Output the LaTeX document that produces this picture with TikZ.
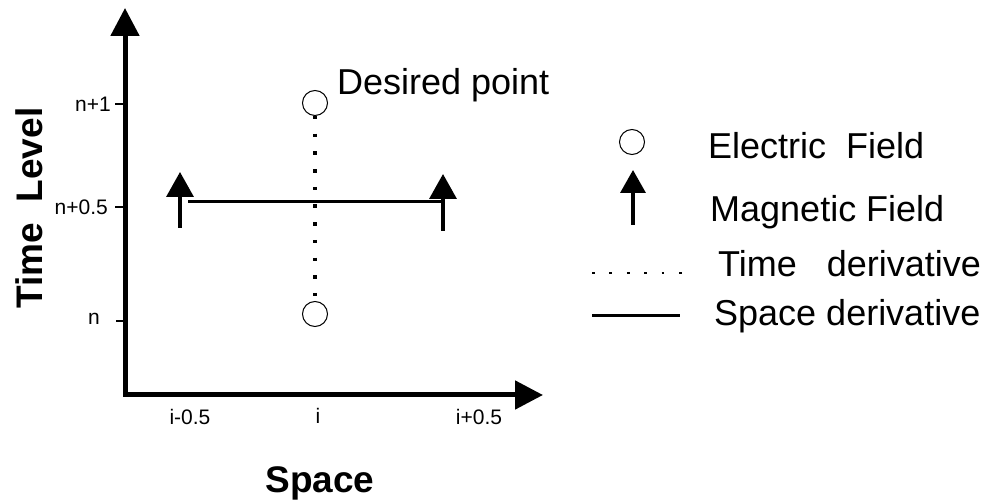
\documentclass[tikz,border=0pt]{standalone}
\usepackage{fontspec}
\setmainfont{Liberation Sans}
\usetikzlibrary{arrows.meta}
\begin{document}
\begin{tikzpicture}[x=1pt,y=-1pt,
  axis/.style={line width=5pt, line join=miter,
    {Triangle[length=28pt,width=28pt]}-{Triangle[length=28pt,width=28pt]}},
  tickmark/.style={line width=1.3pt},
  ticklabel/.style={font=\fontsize{21}{23}\selectfont, inner sep=0},
  axislabel/.style={font=\fontsize{37}{40}\selectfont\bfseries, inner sep=0},
  legendtext/.style={font=\fontsize{36}{40}\selectfont, inner sep=0, anchor=base west},
  efield/.style={circle, draw, line width=1pt, minimum size=25pt, inner sep=0pt},
  hfield/.style={line width=3.5pt, -{Triangle[length=25pt,width=27pt]}},
  timederiv/.style={line width=4pt, dash pattern=on 3.5pt off 14.2pt},
  spacederiv/.style={line width=3pt}
]
\useasboundingbox (0,0) rectangle (989,502);

% axes
\coordinate (O) at (125,395);
\coordinate (ytop) at (125,8);
\coordinate (xend) at (543,395);
\draw[axis] (ytop) -- (O) -- (xend);

% time level ticks
\coordinate (t1) at (125,104);
\coordinate (th) at (125,207);
\coordinate (t0) at (125,321);
\draw[tickmark] (t1) -- ++(-10,0);
\draw[tickmark] (th) -- ++(-10,0);
\draw[tickmark] (t0) -- ++(-9,0);
\node[ticklabel, anchor=base east] (ln1) at (111,112) {n+1};
\node[ticklabel, anchor=base east] (lnh) at (108,215) {n+0.5};
\node[ticklabel, anchor=base east] (ln0) at (100,325) {n};

% space labels
\node[ticklabel, anchor=base] (li0) at (190,425) {i-0.5};
\node[ticklabel, anchor=base] (li) at (318,424) {i};
\node[ticklabel, anchor=base] (li1) at (479,425) {i+0.5};

% axis titles
\node[axislabel, anchor=base] (xtitle) at (320,493) {Space};
\node[axislabel, anchor=base, rotate=90] (ytitle) at (42,208) {Time\ \ Level};

% electric field points and the time derivative
\node[efield] (Etop) at (315,103) {};
\node[efield] (Ebot) at (315,314) {};
\draw[timederiv] (Etop.south) -- (Ebot.north);
\node[legendtext] (desired) at (337,95) {Desired point};

% magnetic field points and the space derivative
\coordinate (HLa) at (180,228);
\coordinate (HLb) at (180,172);
\coordinate (HRa) at (443,231);
\coordinate (HRb) at (443,174);
\draw[hfield] (HLa) -- (HLb);
\draw[hfield] (HRa) -- (HRb);
\coordinate (sL) at (188,202);
\coordinate (sR) at (443,202);
\draw[spacederiv] (sL) -- (sR);

% legend
\node[efield] (legE) at (632,142) {};
\node[legendtext] (legEt) at (708,159) {Electric\ \ Field};
\coordinate (legHa) at (633,225);
\coordinate (legHb) at (633,170);
\draw[hfield, -{Triangle[length=23pt,width=25pt]}] (legHa) -- (legHb);
\node[legendtext] (legHt) at (710,222) {Magnetic Field};
\coordinate (legTa) at (592,273);
\coordinate (legTb) at (683,273);
\draw[line width=2.5pt, dash pattern=on 2.8pt off 14.6pt] (legTa) -- (legTb);
\node[legendtext] (legTt) at (718,277) {Time\ \ \ derivative};
\coordinate (legSa) at (592,316);
\coordinate (legSb) at (680,316);
\draw[spacederiv] (legSa) -- (legSb);
\node[legendtext] (legSt) at (714,326) {Space derivative};
\end{tikzpicture}
\end{document}
